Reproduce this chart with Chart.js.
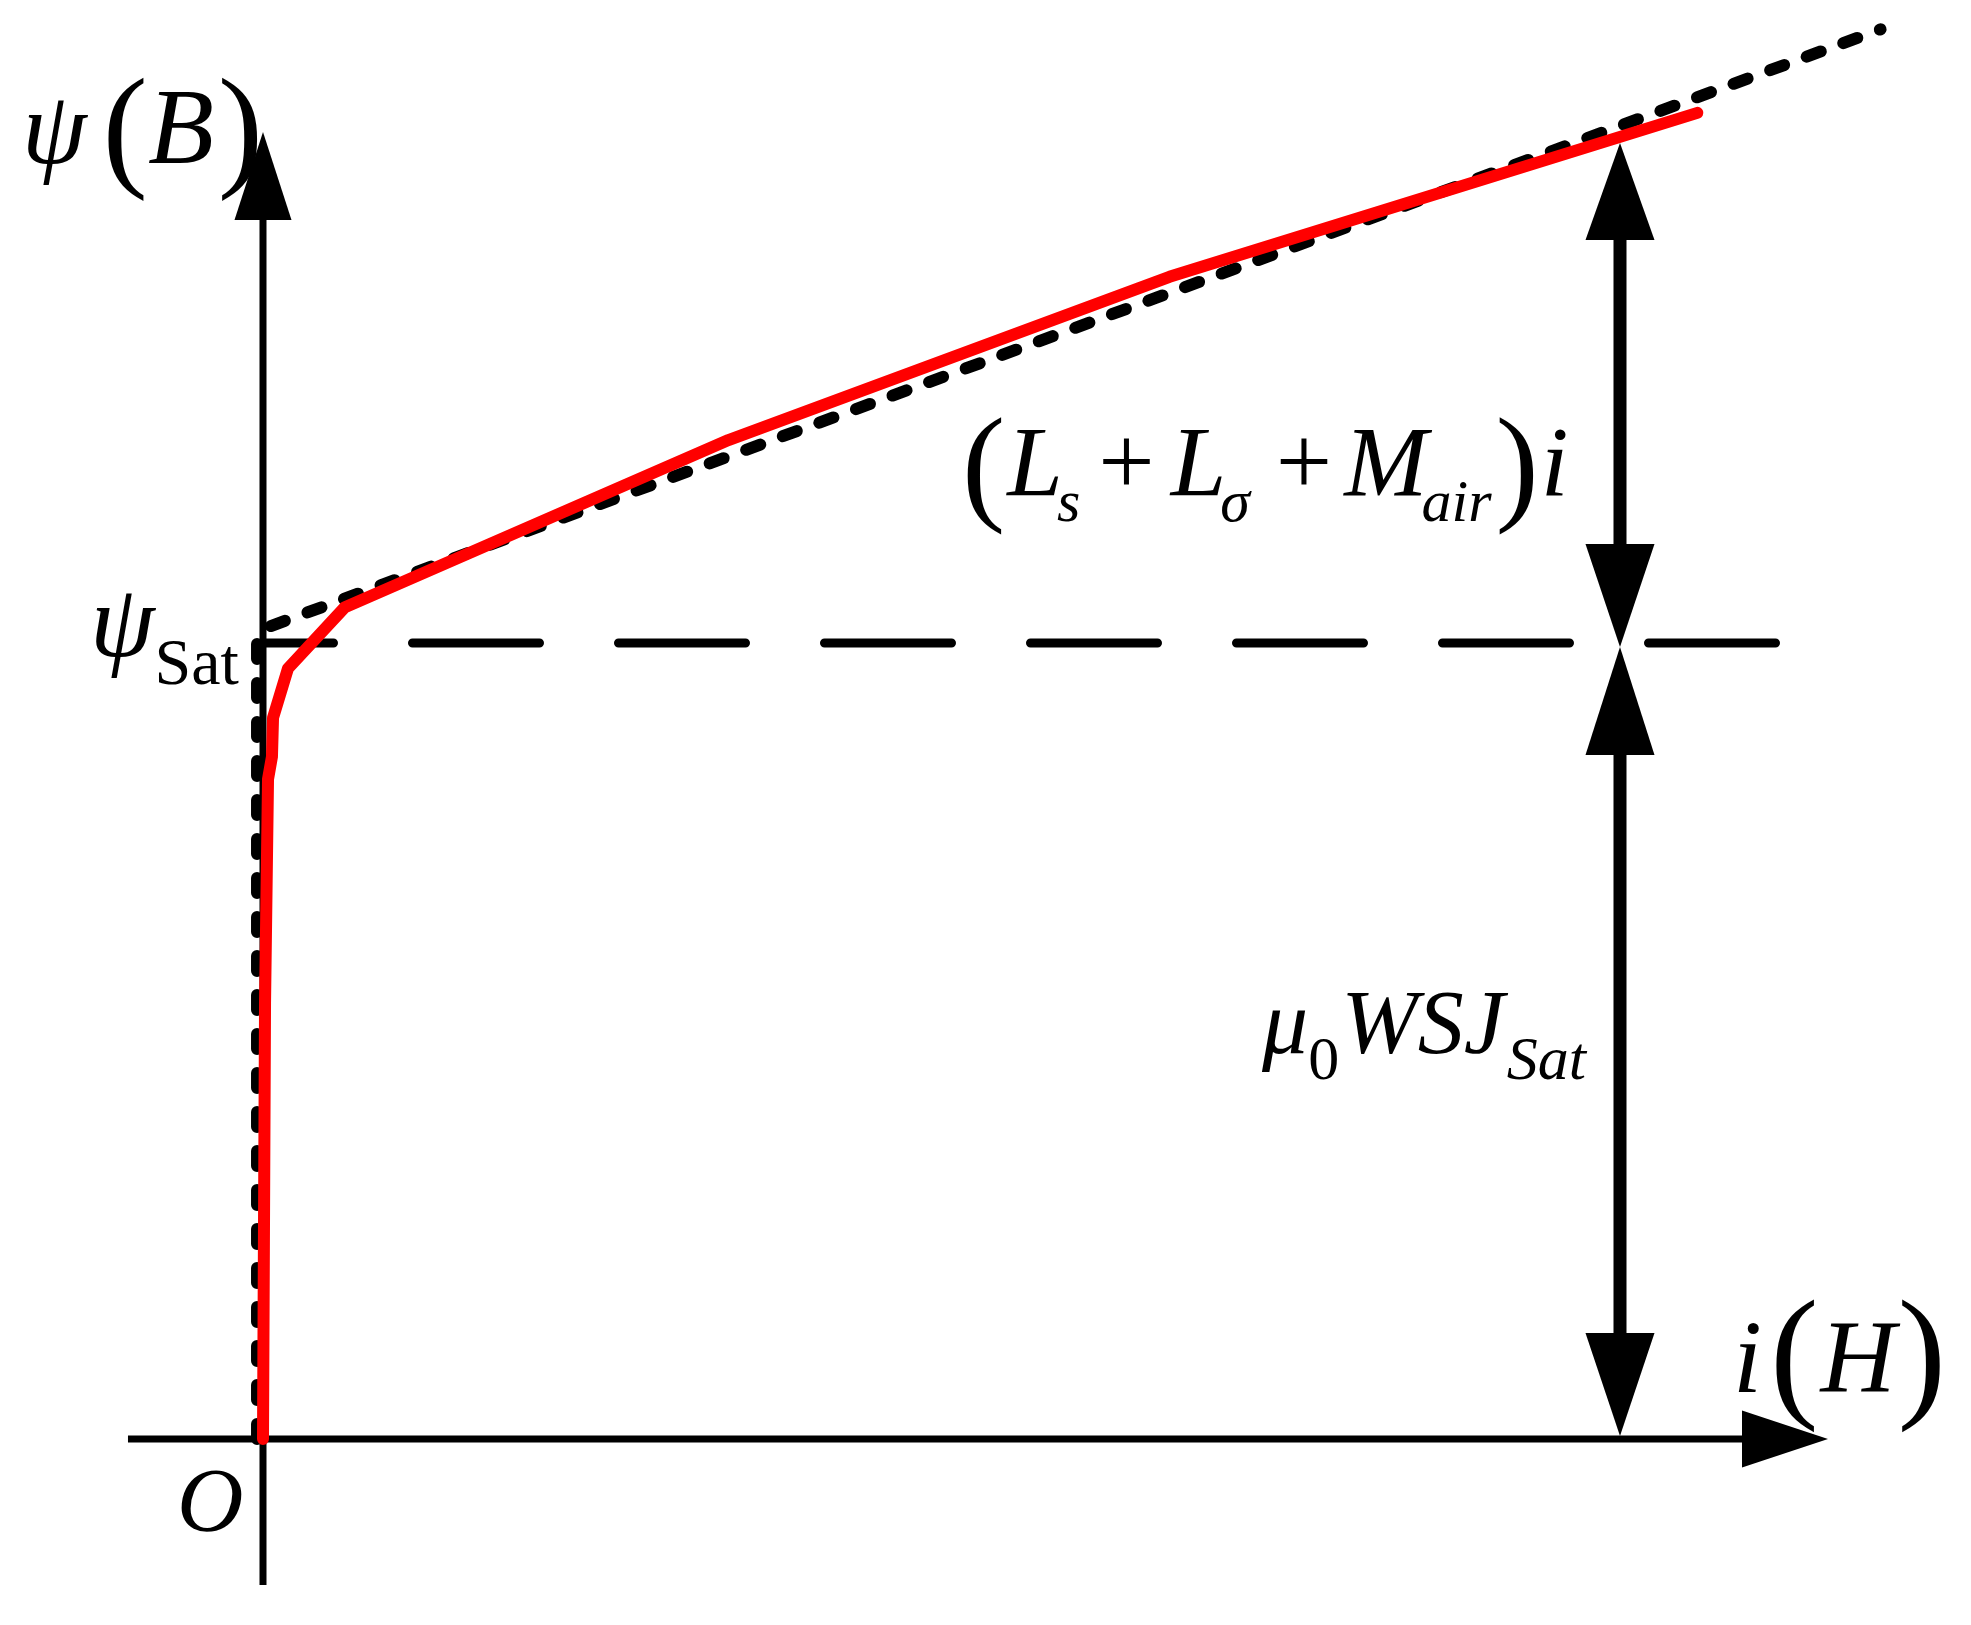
<!DOCTYPE html>
<html>
<head>
<meta charset="utf-8">
<title>psi - i curve</title>
<script src="https://cdn.jsdelivr.net/npm/chart.js@4.4.1/dist/chart.umd.min.js"></script>
<style>
  html, body { margin: 0; padding: 0; background: #fff; }
  #wrap { width: 1971px; height: 1625px; }
</style>
</head>
<body>
<div id="wrap"><canvas id="myChart" width="1971" height="1625"></canvas></div>
<script>
// i is normalised so the measuring arrow sits at i = 1, psi so that psi_Sat = 1
const realCurveI   = [0, 0.0015, 0.0037, 0.0066, 0.0074, 0.0184, 0.0604, 0.343, 0.668, 1.057];
const realCurvePsi = [0, 0.548, 0.829, 0.857, 0.906, 0.968, 1.045, 1.255, 1.460, 1.666];

const idealCurveI   = [-0.0044, -0.0044, 0.0037, 1.192];
const idealCurvePsi = [0, 1.004, 1.020, 1.771];

const psiSat = 1;
const markerI = 1;
const satLineEnd = 1.1146;
const axisTipI = 1.1533;
const axisTipPsi = 1.642;
const axisStartI = -0.0995;
const axisStartPsi = -0.1834;
const markerTopPsi = 1.628;

document.addEventListener('DOMContentLoaded', function() {
  const ctx = document.getElementById('myChart').getContext('2d');

  function toPoints(xs, ys) {
    return xs.map(function(v, k) { return { x: v, y: ys[k] }; });
  }

  function triangle(c, tipX, tipY, baseX1, baseY1, baseX2, baseY2) {
    c.beginPath();
    c.moveTo(tipX, tipY);
    c.lineTo(baseX1, baseY1);
    c.lineTo(baseX2, baseY2);
    c.closePath();
    c.fill();
  }

  function drawRun(c, x, parts) {
    parts.forEach(function(p) {
      x += p.gap || 0;
      c.font = p.font;
      c.fillText(p.t, x, p.y);
      x += c.measureText(p.t).width;
    });
  }

  const serif = '"Liberation Serif", "Times New Roman", serif';

  const schematic = {
    id: 'schematic',
    beforeDatasetsDraw: function(chart) {
      const c = chart.ctx;
      const sx = chart.scales.x, sy = chart.scales.y;
      const ox = sx.getPixelForValue(0), oy = sy.getPixelForValue(0);
      const satY = sy.getPixelForValue(psiSat);
      const mx = sx.getPixelForValue(markerI);
      c.save();
      c.fillStyle = '#000';
      c.strokeStyle = '#000';

      // psi_Sat dashed level
      c.lineWidth = 9;
      c.lineCap = 'round';
      c.setLineDash([127, 79]);
      c.lineDashOffset = 56.5;
      c.beginPath();
      c.moveTo(ox, satY);
      c.lineTo(sx.getPixelForValue(satLineEnd), satY);
      c.stroke();
      c.setLineDash([]);

      // axes
      c.lineWidth = 7;
      c.lineCap = 'butt';
      const yTip = sy.getPixelForValue(axisTipPsi);
      const xTip = sx.getPixelForValue(axisTipI);
      c.beginPath();
      c.moveTo(ox, sy.getPixelForValue(axisStartPsi));
      c.lineTo(ox, yTip + 80);
      c.moveTo(sx.getPixelForValue(axisStartI), oy);
      c.lineTo(xTip - 80, oy);
      c.stroke();
      triangle(c, ox, yTip, ox - 28.5, yTip + 88, ox + 28.5, yTip + 88);
      triangle(c, xTip, oy, xTip - 86, oy - 28.5, xTip - 86, oy + 28.5);

      // measuring arrows
      const topTip = sy.getPixelForValue(markerTopPsi);
      c.lineWidth = 13;
      c.beginPath();
      c.moveTo(mx, topTip + 90);
      c.lineTo(mx, satY - 95);
      c.moveTo(mx, satY + 100);
      c.lineTo(mx, oy - 95);
      c.stroke();
      triangle(c, mx, topTip, mx - 34.5, topTip + 97, mx + 34.5, topTip + 97);
      triangle(c, mx, satY + 4, mx - 34.5, satY - 99, mx + 34.5, satY - 99);
      triangle(c, mx, satY + 4, mx - 34.5, satY + 112, mx + 34.5, satY + 112);
      triangle(c, mx, oy - 3, mx - 34.5, oy - 106, mx + 34.5, oy - 106);
      c.restore();
    },
    afterDatasetsDraw: function(chart) {
      const c = chart.ctx;
      const sx = chart.scales.x, sy = chart.scales.y;
      const ox = sx.getPixelForValue(0), oy = sy.getPixelForValue(0);
      const satY = sy.getPixelForValue(psiSat);
      const mx = sx.getPixelForValue(markerI);
      c.save();
      c.fillStyle = '#000';
      c.textAlign = 'left';
      c.textBaseline = 'alphabetic';

      // psi(B)
      drawRun(c, ox - 241, [
        { t: '\u03C8', font: 'italic 104px ' + serif, y: 163 },
        { t: '(', font: '136px ' + serif, y: 172, gap: 16 },
        { t: 'B', font: 'italic 108px ' + serif, y: 163, gap: 0 },
        { t: ')', font: '136px ' + serif, y: 172, gap: 4 }
      ]);

      // psi_Sat
      drawRun(c, ox - 173, [
        { t: '\u03C8', font: 'italic 104px ' + serif, y: satY + 13 },
        { t: 'Sat', font: '66px ' + serif, y: satY + 41, gap: 0 }
      ]);

      // origin
      c.font = 'italic 92px ' + serif;
      c.fillText('O', ox - 86, oy + 92);

      // i(H)
      drawRun(c, mx + 113, [
        { t: 'i', font: 'italic 104px ' + serif, y: oy - 47 },
        { t: '(', font: '146px ' + serif, y: oy - 38, gap: 8 },
        { t: 'H', font: 'italic 104px ' + serif, y: oy - 47, gap: 2 },
        { t: ')', font: '146px ' + serif, y: oy - 38, gap: 2 }
      ]);

      // (Ls + Lsigma + Mair) i
      const it100 = 'italic 100px ' + serif, it60 = 'italic 60px ' + serif;
      const rm100 = '100px ' + serif, par = '130px ' + serif;
      drawRun(c, mx - 658, [
        { t: '(', font: par, y: satY - 136 },
        { t: 'L', font: it100, y: satY - 148, gap: 2 },
        { t: 's', font: it60, y: satY - 122, gap: -6 },
        { t: '+', font: rm100, y: satY - 148, gap: 18 },
        { t: 'L', font: it100, y: satY - 148, gap: 16 },
        { t: '\u03C3', font: it60, y: satY - 122, gap: -6 },
        { t: '+', font: rm100, y: satY - 148, gap: 26 },
        { t: 'M', font: it100, y: satY - 148, gap: 12 },
        { t: 'air', font: it60, y: satY - 122, gap: -6 },
        { t: ')', font: par, y: satY - 136, gap: 4 },
        { t: 'i', font: it100, y: satY - 148, gap: 2 }
      ]);

      // mu0 W S J_Sat
      const it92 = 'italic 92px ' + serif, it62 = 'italic 62px ' + serif;
      drawRun(c, mx - 358, [
        { t: '\u03BC', font: it92, y: oy - 386 },
        { t: '0', font: '62px ' + serif, y: oy - 360, gap: 0 },
        { t: 'W', font: it92, y: oy - 386, gap: 2 },
        { t: 'S', font: it92, y: oy - 386, gap: 0 },
        { t: 'J', font: it92, y: oy - 386, gap: 0 },
        { t: 'Sat', font: it62, y: oy - 360, gap: 2 }
      ]);
      c.restore();
    }
  };

  const data = {
    datasets: [{
      label: 'Real curve',
      data: toPoints(realCurveI, realCurvePsi),
      borderColor: '#ff0000',
      borderWidth: 12,
      borderCapStyle: 'round',
      borderJoinStyle: 'round',
      pointRadius: 0,
      tension: 0
    }, {
      label: 'Ideal curve',
      data: toPoints(idealCurveI, idealCurvePsi),
      borderColor: '#000000',
      borderWidth: 12,
      borderDash: [15, 24],
      borderCapStyle: 'round',
      borderJoinStyle: 'round',
      pointRadius: 0,
      tension: 0
    }]
  };

  const config = {
    type: 'line',
    data: data,
    options: {
      responsive: false,
      animation: false,
      layout: { padding: 0 },
      plugins: {
        legend: { display: false },
        tooltip: { enabled: false }
      },
      scales: {
        x: { type: 'linear', display: false, min: -0.19381, max: 1.25866 },
        y: { type: 'linear', display: false, min: -0.23367, max: 1.80779 }
      }
    },
    plugins: [schematic]
  };

  const myChart = new Chart(ctx, config);
});
</script>
</body>
</html>
